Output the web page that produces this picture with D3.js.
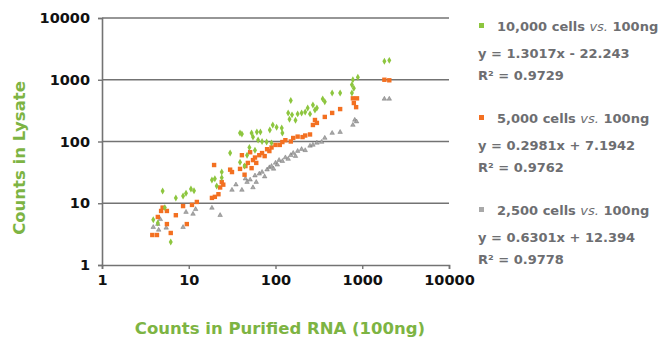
<!DOCTYPE html>
<html>
<head>
<meta charset="utf-8">
<script src="https://cdn.jsdelivr.net/npm/d3@7"></script>
<style>
  body { margin: 0; background: #fff; }
  svg text { font-family: "DejaVu Sans", "Open Sans", sans-serif; }
</style>
</head>
<body>
<div id="chart"></div>
<script>
// counts: [purified RNA (100ng), lysate]
const green10k = [
  [3.9,5.4],[4.4,4.8],[5.0,15.8],[5.3,8.5],[6.2,2.36],[7.1,12.2],[8.6,13.1],[9.3,14.5],[10.6,17],[11.5,16],
  [18.5,23.8],[20,25],[21,19],[24,32],[24,26],[30,65],[39,46],[39,137],[41,132],[44,40],[47,60],[50,80],
  [53,137],[55,118],[58,72],[61,142],[63,106],[67,142],[70,100],[79,98],[86,153],[90,95],[93,185],[103,170],
  [118,165],[120,137],[140,290],[145,230],[150,460],[155,270],[170,220],[180,280],[200,290],[220,300],
  [235,350],[250,280],[270,390],[285,324],[300,350],[350,490],[370,440],[450,610],[556,610],[760,610],
  [760,830],[800,730],[780,1000],[890,1100],[1800,2000],[2050,2060]
];
const orange5k = [
  [3.8,3.06],[4.3,3.06],[4.4,6],[4.8,7.5],[5.0,8.5],[5.6,7.5],[5.6,4.6],[6.2,3.3],[7.1,6.4],[8.6,9],
  [9.5,4.6],[10.9,9.4],[12.4,10.5],[18.5,12.2],[19.6,41.6],[20,12.7],[22,14],[23,18],[24,22],[25,20],
  [30,35],[31.5,32],[39,36],[41,60],[44,29],[45,40],[48,45],[51,67],[53,37],[55,50],[58,55],[60,45],
  [65,60],[70,65],[75,58],[80,75],[85,70],[90,80],[100,88],[112,88],[120,98],[130,105],[150,100],
  [160,114],[180,120],[205,118],[220,125],[250,130],[270,185],[285,223],[300,200],[370,250],[450,290],
  [556,335],[780,500],[870,500],[800,420],[850,360],[1800,1000],[2050,980]
];
const gray2500 = [
  [3.9,4.1],[4.4,4.6],[4.5,3.7],[4.7,5.5],[5.5,4.0],[8.6,4.1],[9.3,7.2],[11.2,6.7],[12,8],[18.5,8.4],
  [23,6.4],[31.5,16.4],[35,20],[41,16.4],[45,25],[47,22],[51,24],[55,18],[58,28],[60,22],[65,30],
  [70,32],[75,27],[80,35],[85,38],[90,40],[95,36],[100,45],[105,42],[110,50],[120,48],[130,55],
  [140,52],[150,60],[160,65],[170,58],[180,70],[200,75],[220,72],[250,85],[270,88],[300,95],[340,98],
  [370,114],[450,137],[556,142],[780,185],[820,223],[860,210],[1800,490],[2050,490]
];
const tickValues = [1, 10, 100, 1000, 10000];
const legendCells = ["10,000 cells", "5,000 cells", "2,500 cells"];
const equations = ["y = 1.3017x - 22.243", "y = 0.2981x + 7.1942", "y = 0.6301x + 12.394"];
const rSquared = ["R\u00B2 = 0.9729", "R\u00B2 = 0.9762", "R\u00B2 = 0.9778"];
const colors = ["#8dc63f", "#f37021", "#a9a9a9"];

const W = 668, H = 340;
const svg = d3.select("#chart").append("svg").attr("width", W).attr("height", H);

const x = d3.scaleLog().domain([1, 10000]).range([102, 449]);
const y = d3.scaleLog().domain([1, 10000]).range([265, 18]);

// gridlines
svg.append("g").selectAll("line")
  .data(tickValues.slice(1))
  .enter().append("line")
  .attr("x1", 102).attr("x2", 449)
  .attr("y1", d => y(d)).attr("y2", d => y(d))
  .style("stroke", "#737373").style("stroke-width", 1.6);

const xAxis = svg.append("g").attr("transform", `translate(0,${y(1)})`)
  .call(d3.axisBottom(x).tickValues(tickValues).tickFormat(d3.format("d")).tickSize(4).tickPadding(6));
const yAxis = svg.append("g").attr("transform", `translate(${x(1)},0)`)
  .call(d3.axisLeft(y).tickValues(tickValues).tickFormat(d3.format("d")).tickSize(4).tickPadding(8));

[xAxis, yAxis].forEach(a => {
  a.select(".domain").style("stroke", "#737373").style("stroke-width", 1.6);
  a.selectAll(".tick line").style("stroke", "#737373").style("stroke-width", 1.4);
  a.selectAll("text").style("font-size", "14.5px").style("font-weight", "700")
    .style("fill", "#111");
});

// points
const gSeries = svg.append("g");
gSeries.append("g").selectAll("path")
  .data(gray2500).enter().append("path")
  .attr("transform", d => `translate(${x(d[0])},${y(d[1])})`)
  .attr("d", d3.symbol().type(d3.symbolTriangle).size(9))
  .style("fill", colors[2]).style("stroke", "#666").style("stroke-width", 0.4);
gSeries.append("g").selectAll("rect")
  .data(orange5k).enter().append("rect")
  .attr("x", d => x(d[0]) - 2.2).attr("y", d => y(d[1]) - 2.2)
  .attr("width", 4.4).attr("height", 4.4)
  .style("fill", colors[1]);
gSeries.append("g").selectAll("path")
  .data(green10k).enter().append("path")
  .attr("transform", d => `translate(${x(d[0])},${y(d[1])})`)
  .attr("d", d3.symbol().type(d3.symbolDiamond).size(14))
  .style("fill", colors[0]);

// axis titles
svg.append("text")
  .attr("transform", "translate(25,158) rotate(-90)")
  .attr("text-anchor", "middle")
  .style("font-size", "16.5px").style("font-weight", "700").style("fill", "#7db443")
  .text("Counts in Lysate");
svg.append("text")
  .attr("x", 280).attr("y", 334)
  .attr("text-anchor", "middle")
  .style("font-size", "16.5px").style("font-weight", "700").style("fill", "#7db443")
  .text("Counts in Purified RNA (100ng)");

// legend
const legTop = [26, 118, 210];
const legStyle = t => t.style("font-size", "13px").style("font-weight", "700")
  .style("fill", "#6d6e71");
legendCells.forEach((c, i) => {
  const g = svg.append("g").attr("transform", `translate(478,${legTop[i]})`);
  g.append("rect").attr("x", 1).attr("y", -3).attr("width", 5).attr("height", 5).style("fill", colors[i]);
  const t = legStyle(g.append("text").attr("x", 19).attr("y", 5));
  t.append("tspan").text(c + " ");
  t.append("tspan").style("font-style", "italic").style("font-weight", "400").text("vs.");
  t.append("tspan").text(" 100ng");
  legStyle(g.append("text").attr("x", 0).attr("y", 32)).text(equations[i]);
  legStyle(g.append("text").attr("x", 0).attr("y", 54)).text(rSquared[i]);
});
</script>
</body>
</html>
